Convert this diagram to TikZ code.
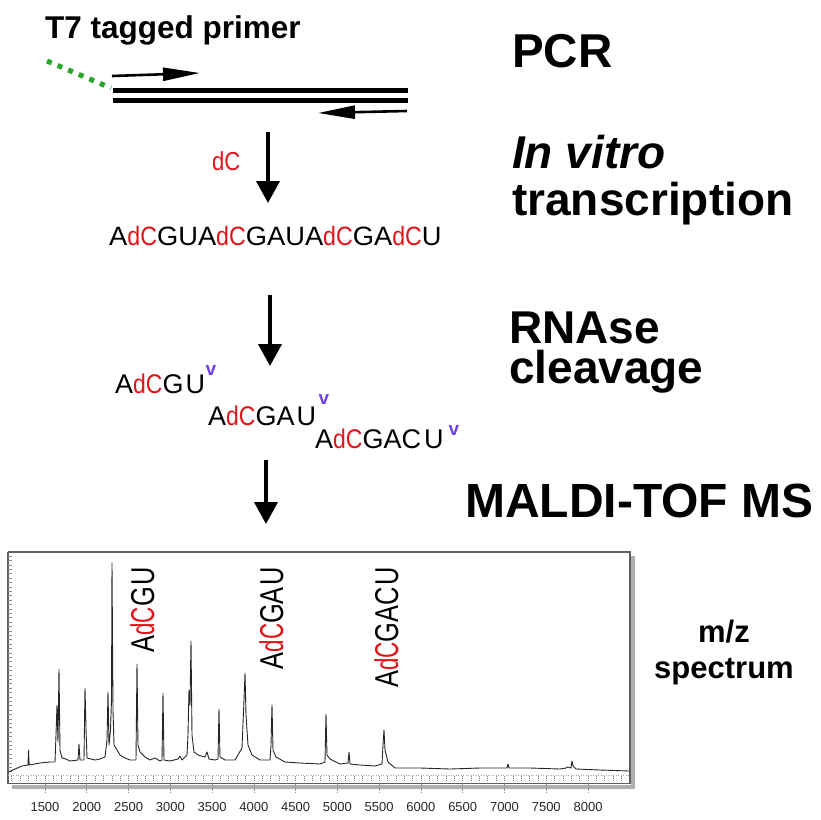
\documentclass[tikz,border=0pt]{standalone}
\usepackage{fontspec}
\usepackage{graphicx}
\setmainfont{Liberation Sans}
\usetikzlibrary{arrows.meta}
\definecolor{dcred}{RGB}{225,20,25}
\definecolor{violetv}{RGB}{110,65,230}
\definecolor{taggreen}{RGB}{40,165,40}
\definecolor{framegray}{RGB}{95,95,95}
\definecolor{shadowgray}{RGB}{175,175,175}
\definecolor{ticklab}{RGB}{40,40,40}
\newcommand{\redDC}{{\color{dcred}\scalebox{0.85}[1]{dC}}}
\tikzset{
  title/.style={font=\fontsize{46}{50}\selectfont\bfseries, anchor=base west, inner sep=0pt},
  subtitle/.style={font=\fontsize{31}{34}\selectfont\bfseries, anchor=base, inner sep=0pt},
  seqtext/.style={font=\fontsize{26.5}{28}\selectfont, anchor=base west, inner sep=0pt},
  fragtext/.style={font=\fontsize{27}{29}\selectfont, anchor=base west, inner sep=0pt},
  vmark/.style={font=\fontsize{19}{20}\selectfont\bfseries, text=violetv, inner sep=0pt},
  peaklabel/.style={font=\fontsize{33}{36}\selectfont, rotate=90, anchor=base east, inner sep=0pt},
  bigarrow/.style={line width=4pt, -{Triangle[length=22pt,width=23pt]}},
  primerarrow/.style={line width=2.6pt, -{Triangle[length=37pt,width=13pt]}},
  strand/.style={line width=5pt},
  spec/.style={line width=0.9pt, black!85, line join=round},
}
\begin{document}
\begin{tikzpicture}[x=1pt,y=-1pt]
\useasboundingbox[fill=white] (0,0) rectangle (820,820);

% ---------- PCR ----------
\node[font=\fontsize{31.5}{34}\selectfont\bfseries, anchor=base west, inner sep=0pt] (t7) at (45,38) {T7 tagged primer};
\node[title, font=\fontsize{47.5}{50}\selectfont\bfseries] (pcr) at (512,67) {PCR};

\coordinate (tagA) at (47,61);
\coordinate (tagB) at (111,88);
\coordinate (s1a) at (113,90);
\coordinate (s1b) at (408,90);
\coordinate (s2a) at (113,100);
\coordinate (s2b) at (408,100);
\coordinate (fA) at (112,76);
\coordinate (fB) at (200,73);
\coordinate (rA) at (407,111);
\coordinate (rB) at (318,113);

\draw[taggreen, line width=5pt, dash pattern=on 5pt off 6.5pt] (tagA) -- (tagB);
\draw[strand] (s1a) -- (s1b);
\draw[strand] (s2a) -- (s2b);
\draw[primerarrow] (fA) -- (fB);
\draw[primerarrow] (rA) -- (rB);

% ---------- transcription ----------
\node[title] (ivt1) at (512,168) {\itshape In vitro};
\node[title] (ivt2) at (512,215) {transcription};
\node[font=\fontsize{26}{28}\selectfont, anchor=base west, inner sep=0pt] (dc) at (212,170) {\redDC};
\coordinate (a1s) at (268,132);
\coordinate (a1e) at (268,203);
\draw[bigarrow] (a1s) -- (a1e);

\node[seqtext] (seq) at (109,245) {\scalebox{1.03}[1]{A\redDC GUA\redDC GAUA\redDC GA\redDC U}};

% ---------- RNAse cleavage ----------
\node[font=\fontsize{46}{40}\selectfont\bfseries, align=left, anchor=north west, inner sep=0pt] (rn) at (509,311.5) {RNAse\\cleavage};
\coordinate (a2s) at (270,295);
\coordinate (a2e) at (270,366);
\draw[bigarrow] (a2s) -- (a2e);

\node[fragtext] (f1) at (115,393) {A\redDC G\kern2pt U};
\node[vmark] (v1) at (211,370) {v};
\node[fragtext] (f2) at (208,425) {A\redDC GA\kern2pt U};
\node[vmark] (v2) at (324,399) {v};
\node[fragtext] (f3) at (315,448) {A\redDC GAC\kern3pt U};
\node[vmark] (v3) at (454,430) {v};

% ---------- MALDI ----------
\node[title, font=\fontsize{48}{50}\selectfont\bfseries] (maldi) at (465,517) {MALDI-TOF MS};
\coordinate (a3s) at (266,460);
\coordinate (a3e) at (266,524);
\draw[bigarrow] (a3s) -- (a3e);

\node[subtitle] (mz) at (724,642) {m/z};
\node[subtitle] (spc) at (724,678) {spectrum};

% ---------- spectrum frame ----------
\fill[shadowgray] (630.5,556) rectangle (634.5,789);
\fill[shadowgray] (12,784.5) rectangle (634.5,789);
\draw[framegray, line width=1.2pt] (8,552) -- (630,552) -- (630,783.5);
\draw[framegray, line width=1.2pt] (8,552) -- (8,783.5) -- (630,783.5);
\draw[black!35, line width=0.5pt, dash pattern=on 1pt off 1.5pt] (8,775) -- (630,775);
% left axis ticks
\foreach \yy in {556,560.4,...,772} {
  \draw[black!45, line width=0.6pt] (8,\yy) -- (11.5,\yy);
}
% minor ticks
\foreach \m in {1100,1200,...,8400} {
  \pgfmathsetmacro{\xx}{45+(\m-1500)*0.08354}
  \draw[black!55, line width=0.6pt, dash pattern=on 1pt off 1pt] (\xx,776) -- (\xx,782);
}
% major ticks and labels
\foreach \m in {1500,2000,...,8000} {
  \pgfmathsetmacro{\xx}{45+(\m-1500)*0.08354}
  \draw[black!45, line width=0.7pt, dash pattern=on 1.5pt off 1pt] (\xx,784) -- (\xx,793);
  \node[font=\fontsize{13}{14}\selectfont, text=ticklab, anchor=base, inner sep=0pt] (lab\m) at (\xx,811) {\m};
}

% ---------- spectrum trace ----------
\draw[spec] plot coordinates {
(8.5,772) (15,769) (22,766) (28,765) (28.5,750) (29.2,765) (40,763) (50,762) (55,762)
(56,735) (57,705) (58,742) (59,669) (60,750) (62,758) (66,759) (70,761) (78,760)
(79,744) (80,760) (84,760) (85,688) (86,728) (87,758) (95,760) (100,759) (105,757)
(107,740) (108,692) (109,745) (110.5,730) (111.5,700) (112,563) (113,710) (114,745)
(117,750) (120,755) (125,758) (130,760) (136,760) (137,664) (138,745) (140,752) (145,757)
(150,760) (155,758) (160,761) (162,760) (163,693) (164,760) (170,761) (178,759) (180,756)
(182,760) (187,755) (188,735) (189,690) (190,705) (191,641) (192,735) (194,752) (198,755)
(205,757) (207,752) (209,759) (215,760) (218,759) (219,709) (220,757) (225,760) (235,760)
(242,748) (244,700) (245,673) (246,715) (248,745) (252,755) (260,760) (270,760) (271,745)
(272,705) (273,750) (276,757) (285,762) (300,763) (320,764) (325,762) (326,714) (327,755)
(330,759) (340,764) (348,763) (349,752) (350,764) (360,765) (375,766) (382,764) (383,745)
(384,730) (385,750) (388,762) (395,768) (420,768) (450,769) (480,768) (507,768) (508,764)
(509,768) (530,768) (560,769) (566,768) (568,767) (571,768) (572,761) (573,766) (576,769)
(600,770) (629.5,771)
};

% ---------- peak labels ----------
\node[peaklabel] (p1) at (154,567) {\scalebox{0.77}[1]{A{\color{dcred}\scalebox{0.88}[1]{dC}}G\kern2pt U}};
\node[peaklabel] (p2) at (283,567) {\scalebox{0.77}[1]{A{\color{dcred}\scalebox{0.88}[1]{dC}}GA\kern2pt U}};
\node[peaklabel] (p3) at (398,567) {\scalebox{0.77}[1]{A{\color{dcred}\scalebox{0.88}[1]{dC}}GAC\kern2pt U}};
\end{tikzpicture}
\end{document}
